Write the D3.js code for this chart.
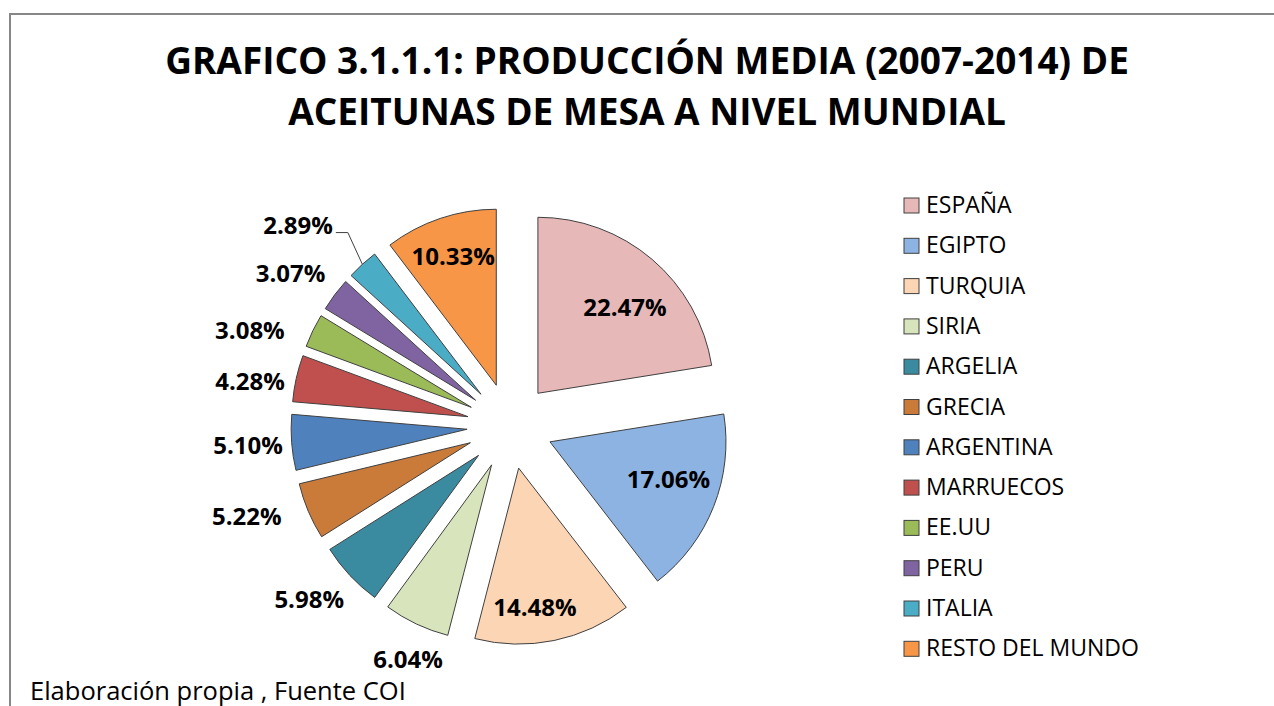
<!DOCTYPE html>
<html>
<head>
<meta charset="utf-8">
<script src="https://cdn.jsdelivr.net/npm/d3@7"></script>
<style>
  html, body { margin: 0; padding: 0; background: #fff; }
  svg { display: block; }
</style>
</head>
<body>
<div id="chart"></div>
<script>
// Producción media (2007-2014) de aceitunas de mesa, % del total mundial

const countries = ['ESPAÑA', 'EGIPTO', 'TURQUIA', 'SIRIA', 'ARGELIA', 'GRECIA',
  'ARGENTINA', 'MARRUECOS', 'EE.UU', 'PERU', 'ITALIA', 'RESTO DEL MUNDO'];
const shares = [22.47, 17.06, 14.48, 6.04, 5.98, 5.22, 5.10, 4.28, 3.08, 3.07, 2.89, 10.33];
const colors = ['#E6B8B7', '#8DB3E2', '#FCD5B4', '#D7E4BC', '#3A8BA0', '#CA7B3A',
  '#4F81BD', '#C0504D', '#9BBB59', '#8064A2', '#4BACC6', '#F79646'];

const titleLines = ['GRAFICO 3.1.1.1: PRODUCCIÓN MEDIA (2007-2014) DE',
  'ACEITUNAS DE MESA A NIVEL MUNDIAL'];
const footnote = 'Elaboración propia , Fuente COI';

const WIDTH = 1274, HEIGHT = 706;
const CX = 510, CY = 426;
const RADIUS = 176;
const EXPLODE = 43;
const FONT = "'Open Sans', 'Noto Sans', sans-serif";

// label placement tweaks (degrees / px), like Excel's "best fit" moves
const labelTweak = {
  'ESPAÑA': { da: 5, dr: -8 },
  'EGIPTO': { da: -4, dr: -6 },
  'TURQUIA': { da: 5, dr: 10 },
  'RESTO DEL MUNDO': { dr: 5 },
  'SIRIA': { da: -4, dr: 11 },
  'ARGELIA': { dr: 13 },
  'GRECIA': { da: 3, dr: 19 },
  'ARGENTINA': { da: -0.5, dr: 1 },
  'MARRUECOS': { da: -2.5, dr: 2.5 },
  'EE.UU': { da: -5, dr: 18 },
  'PERU': { dr: 12.5 },
  'ITALIA': { da: -2.6, dr: 40, leader: true },
};

const svg = d3.select('#chart').append('svg')
  .attr('width', WIDTH)
  .attr('height', HEIGHT);

svg.append('rect')
  .attr('width', WIDTH).attr('height', HEIGHT)
  .attr('fill', '#fff');

// chart frame (runs off the right and bottom edges)
svg.append('rect')
  .attr('x', 10).attr('y', 14)
  .attr('width', WIDTH + 20).attr('height', HEIGHT + 20)
  .attr('fill', 'none')
  .attr('stroke', '#878787')
  .attr('stroke-width', 2);

// Title
svg.append('g').selectAll('text')
  .data(titleLines)
  .join('text')
  .attr('x', 647)
  .attr('y', (d, i) => 74 + i * 51)
  .attr('text-anchor', 'middle')
  .attr('font-family', FONT)
  .attr('font-weight', 'bold')
  .attr('font-size', 37)
  .attr('fill', '#000')
  .text(d => d);

// Pie
const data = countries.map((name, i) => ({ name, value: shares[i], color: colors[i] }));
const pie = d3.pie().sort(null).value(d => d.value);
const arcs = pie(data);
const arc = d3.arc().innerRadius(0).outerRadius(RADIUS);

const midAngle = d => (d.startAngle + d.endAngle) / 2;
const unit = a => [Math.sin(a), -Math.cos(a)];

const pieG = svg.append('g').attr('transform', `translate(${CX},${CY})`);

pieG.selectAll('path')
  .data(arcs)
  .join('path')
  .attr('transform', d => {
    const [ux, uy] = unit(midAngle(d));
    return `translate(${ux * EXPLODE},${uy * EXPLODE})`;
  })
  .attr('d', arc)
  .attr('fill', d => d.data.color)
  .attr('stroke', '#404040')
  .attr('stroke-width', 1);

// Data labels
const labelG = pieG.append('g')
  .attr('font-family', FONT)
  .attr('font-weight', 'bold')
  .attr('font-size', 24)
  .attr('fill', '#000');

const LABEL_H = 29;
const OUT_PAD = 8;

arcs.forEach(d => {
  const a = midAngle(d);
  const [ux, uy] = unit(a);
  const tipX = ux * EXPLODE, tipY = uy * EXPLODE;
  const tw = labelTweak[d.data.name] || {};
  const la = a + (tw.da || 0) * Math.PI / 180;
  const [lx, ly] = unit(la);

  const t = labelG.append('text')
    .attr('text-anchor', 'middle')
    .attr('dy', '0.35em')
    .text(d.data.value.toFixed(2) + '%');

  if (d.data.value >= 10) {
    const dist = RADIUS * 0.74 + (tw.dr || 0);
    t.attr('x', tipX + lx * dist).attr('y', tipY + ly * dist);
    return;
  }

  const w = t.node().getComputedTextLength();
  const dist = RADIUS + OUT_PAD + (tw.dr || 0);
  const x = tipX + lx * dist + lx * w / 2;
  const y = tipY + ly * dist + ly * LABEL_H / 2;
  t.attr('x', x).attr('y', y);

  if (tw.leader) {
    const ex = tipX + ux * RADIUS, ey = tipY + uy * RADIUS;
    const sx = x + w / 2 + 3, sy = y + 7;
    labelG.append('polyline')
      .attr('points', [[sx, sy], [sx + 12, sy], [ex, ey]].map(p => p.join(',')).join(' '))
      .attr('fill', 'none')
      .attr('stroke', '#404040')
      .attr('stroke-width', 1);
  }
});

// Legend
const legend = svg.append('g')
  .attr('transform', 'translate(904, 198)');

const item = legend.selectAll('g')
  .data(data)
  .join('g')
  .attr('transform', (d, i) => `translate(0, ${i * 40.3})`);

item.append('rect')
  .attr('width', 15).attr('height', 15)
  .attr('fill', d => d.color)
  .attr('stroke', '#404040')
  .attr('stroke-width', 1);

item.append('text')
  .attr('x', 22)
  .attr('y', 15)
  .attr('font-family', FONT)
  .attr('font-size', 23)
  .attr('fill', '#000')
  .text(d => d.name);

// Source note
svg.append('text')
  .attr('x', 30)
  .attr('y', 700)
  .attr('font-family', FONT)
  .attr('font-size', 25.5)
  .attr('fill', '#000')
  .text(footnote);
</script>
</body>
</html>
